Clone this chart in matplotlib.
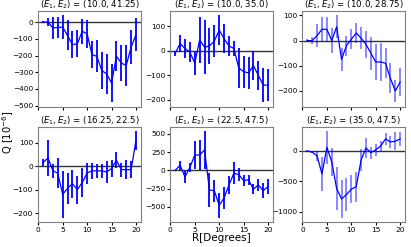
import matplotlib
matplotlib.use("Agg")
import matplotlib.pyplot as plt
import numpy as np

R = list(range(1, 21))

titles = ["(10.0, 41.25)", "(10.0, 35.0)", "(10.0, 28.75)",
          "(16.25, 22.5)", "(22.5, 47.5)", "(35.0, 47.5)"]

q1 = [0, 0, -35, -32, -30, -80, -135, -130, -55, -70, -195, -205, -290, -310, -365, -205, -245, -260, -150, -75]
e1 = [5, 25, 65, 65, 70, 90, 80, 80, 75, 85, 80, 95, 110, 120, 115, 90, 110, 120, 100, 100]

q2 = [-10, 30, 10, -5, -50, 45, 15, 20, 40, 85, 50, 20, 10, -70, -85, -90, -60, -100, -140, -140]
e2 = [10, 35, 40, 40, 50, 95, 110, 75, 65, 60, 60, 40, 30, 80, 65, 65, 60, 60, 70, 65]

q3 = [0, 0, 20, 45, 45, 0, 55, -75, -20, 5, 30, 10, -15, -50, -85, -85, -90, -150, -200, -165]
e3 = [5, 15, 45, 50, 50, 50, 45, 45, 40, 40, 40, 45, 55, 65, 70, 75, 60, 60, 45, 55]

q4 = [15, 35, -20, -30, -120, -95, -75, -100, -70, -30, -20, -20, -20, -25, -10, 25, -15, -15, -15, 110]
e4 = [15, 75, 30, 65, 100, 65, 60, 60, 60, 45, 35, 30, 30, 45, 35, 35, 30, 40, 35, 40]

q5 = [0, 70, -90, 40, 210, 210, 280, -270, -280, -480, -380, -200, -40, -60, -140, -130, -260, -200, -280, -220]
e5 = [10, 60, 80, 60, 190, 200, 260, 230, 150, 170, 150, 120, 150, 90, 70, 70, 70, 80, 100, 100]

q6 = [0, -20, -80, -380, 60, -180, -620, -790, -720, -630, -590, -150, 50, -30, 20, 80, 200, 150, 160, 200]
e6 = [10, 20, 80, 280, 270, 230, 350, 310, 270, 230, 250, 180, 170, 100, 100, 90, 100, 100, 150, 120]

series = [(q1, e1), (q2, e2), (q3, e3), (q4, e4), (q5, e5), (q6, e6)]
err_alpha = [1.0, 1.0, 0.5, 1.0, 1.0, 0.5]
yticks = [[0, -100, -200, -300, -400, -500],
          [100, 0, -100, -200],
          [100, 0, -100, -200],
          [100, 0, -100, -200],
          [500, 250, 0, -250, -500],
          [0, -500, -1000]]

fig, axes = plt.subplots(2, 3, figsize=(4.11, 2.47), dpi=100, sharex=True)
fig.subplots_adjust(left=0.093, right=0.985, top=0.955, bottom=0.101,
                    wspace=0.29, hspace=0.21)

for i, ax in enumerate(axes.flat):
    q, e = series[i]
    ax.axhline(0, color='0.2', lw=1.0, zorder=1)
    ax.errorbar(R, q, yerr=e, color='blue', ecolor=(0, 0, 1, err_alpha[i]),
                lw=0.9, elinewidth=1.3, zorder=2)
    ax.set_title(r'$(E_1, E_2)$ = ' + titles[i], fontsize=6.2, pad=1.5)
    ax.set_yticks(yticks[i])
    ax.tick_params(labelsize=5.3, length=2.5, pad=1.2)
    for s in ax.spines.values():
        s.set_color('0.5')

axes[1, 0].set_xticks([0, 5, 10, 15, 20])
axes[1, 1].set_xlabel('R[Degrees]', fontsize=7.5, labelpad=0)
fig.text(0.0, 0.465, r'Q [10$^{-6}$]', rotation=90, va='center', ha='left', fontsize=7.2)

fig.savefig('out.png', dpi=100)
